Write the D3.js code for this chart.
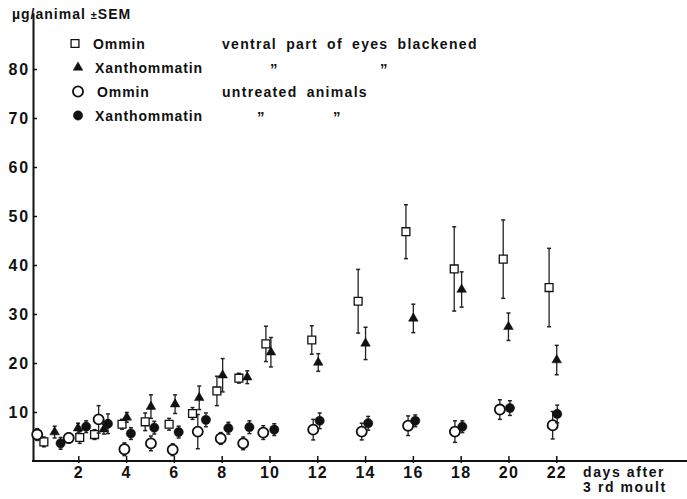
<!DOCTYPE html>
<html>
<head>
<meta charset="utf-8">
<script src="https://cdn.jsdelivr.net/npm/d3@7"></script>
<style>
  body { margin: 0; background: #fff; }
  text { font-family: "Liberation Sans", Arial, sans-serif; font-weight: bold; fill: #111; }
</style>
</head>
<body>
<div id="chart"></div>
<script>
// Plotted day positions (markers are shifted a little around the sampling day), means and SEM.
const ommBlackDays = [0.56, 2.06, 2.68, 3.83, 4.8, 5.8, 6.78, 7.8, 8.72, 9.85, 11.77, 13.71, 15.71, 17.73, 19.78, 21.7];
const ommBlackVals = [3.9, 4.8, 5.4, 7.5, 8.0, 7.5, 9.7, 14.3, 16.9, 23.9, 24.7, 32.6, 46.8, 39.2, 41.2, 35.4];
const ommBlackSem  = [1.0, 1.2, 1.0, 1.0, 1.8, 1.2, 1.2, 3.0, 1.0, 3.6, 2.9, 6.5, 5.5, 8.6, 8.0, 8.0];

const xanBlackDays = [1.01, 1.99, 3.07, 4.03, 5.04, 6.05, 7.06, 8.04, 9.07, 10.06, 12.04, 14.02, 16.02, 18.04, 20.0, 22.02];
const xanBlackVals = [5.9, 6.7, 6.5, 8.9, 11.1, 11.6, 12.9, 17.5, 17.1, 22.2, 20.1, 24.0, 29.1, 35.0, 27.4, 20.6];
const xanBlackSem  = [1.2, 1.0, 1.0, 1.0, 2.4, 1.9, 2.4, 3.4, 1.3, 3.0, 1.8, 3.3, 2.9, 3.6, 2.8, 3.0];

const ommCtrlDays = [0.28, 1.6, 2.85, 3.93, 5.04, 5.95, 7.0, 7.96, 8.9, 9.74, 11.83, 13.86, 15.8, 17.76, 19.64, 21.85];
const ommCtrlVals = [5.4, 4.7, 8.5, 2.4, 3.6, 2.3, 6.0, 4.6, 3.6, 5.8, 6.4, 6.0, 7.2, 6.0, 10.5, 7.3];
const ommCtrlSem  = [1.2, 1.0, 2.8, 1.3, 1.5, 1.2, 3.5, 1.2, 1.3, 1.4, 2.1, 1.7, 2.0, 2.2, 2.0, 2.8];

const xanCtrlDays = [1.26, 2.33, 3.24, 4.2, 5.18, 6.2, 7.34, 8.28, 9.16, 10.2, 12.1, 14.13, 16.1, 18.07, 20.06, 22.04];
const xanCtrlVals = [3.6, 7.0, 7.6, 5.6, 6.8, 5.9, 8.4, 6.7, 6.9, 6.4, 8.2, 7.7, 8.2, 7.0, 10.8, 9.6];
const xanCtrlSem  = [1.2, 1.2, 2.0, 1.2, 1.3, 1.2, 1.4, 1.2, 1.3, 1.2, 1.6, 1.4, 1.2, 1.2, 1.5, 1.8];

const xTicks = [2, 4, 6, 8, 10, 12, 14, 16, 18, 20, 22];
const yTicks = [10, 20, 30, 40, 50, 60, 70, 80];

const legendNames = ["Ommin", "Xanthommatin", "Ommin", "Xanthommatin"];
const legendNotes = ["ventral part of eyes blackened", null, "untreated animals", null];

document.addEventListener("DOMContentLoaded", function() {
  const width = 687,
        height = 499;

  const x = d3.scaleLinear().domain([0, 27.5]).range([30.5, 687.7]);
  const y = d3.scaleLinear().domain([0, 91.5]).range([461, 12.65]);

  const svg = d3.select("#chart")
    .append("svg")
    .attr("width", width)
    .attr("height", height);

  // Series: symbol type and fill.
  const series = [
    { days: ommBlackDays, vals: ommBlackVals, sem: ommBlackSem, type: d3.symbolSquare, size: 62, fill: "#fff", sw: 1.3 },
    { days: xanBlackDays, vals: xanBlackVals, sem: xanBlackSem, type: d3.symbolTriangle, size: 40, fill: "#111", sw: 0.5 },
    { days: ommCtrlDays, vals: ommCtrlVals, sem: ommCtrlSem, type: d3.symbolCircle, size: 80, fill: "#fff", sw: 1.8 },
    { days: xanCtrlDays, vals: xanCtrlVals, sem: xanCtrlSem, type: d3.symbolCircle, size: 68, fill: "#111", sw: 0.5 }
  ];

  // Axes.
  const yAxis = d3.axisLeft(y)
    .tickValues(yTicks)
    .tickSizeInner(-4)
    .tickSizeOuter(0)
    .tickPadding(3);
  const gy = svg.append("g")
    .attr("transform", `translate(33,0)`)
    .call(yAxis);
  gy.select(".domain").attr("stroke", "#111").attr("stroke-width", 2);
  gy.selectAll(".tick line").attr("stroke", "#111").attr("stroke-width", 1.5);
  gy.selectAll(".tick text")
    .style("font-size", "16px")
    .style("letter-spacing", "1.8px")
    .attr("fill", "#111");

  const xAxis = d3.axisBottom(x)
    .tickValues(xTicks)
    .tickSizeInner(-5)
    .tickSizeOuter(0)
    .tickPadding(6);
  const gx = svg.append("g")
    .attr("transform", `translate(0,${y(0)})`)
    .call(xAxis);
  gx.select(".domain").remove();
  gx.append("line")
    .attr("x1", 32).attr("x2", width)
    .attr("stroke", "#111").attr("stroke-width", 2);
  gx.selectAll(".tick line").attr("stroke", "#111").attr("stroke-width", 1.5).attr("y2", 2).attr("y1", -5);
  gx.selectAll(".tick text")
    .style("font-size", "16px")
    .style("letter-spacing", "1.2px")
    .attr("fill", "#111");

  svg.append("text")
    .attr("x", 583).attr("y", 477)
    .style("font-size", "14px").style("letter-spacing", "1.6px")
    .text("days after");
  svg.append("text")
    .attr("x", 583).attr("y", 492)
    .style("font-size", "14px").style("letter-spacing", "1.6px")
    .text("3 rd moult");

  svg.append("text")
    .attr("x", 12).attr("y", 19)
    .style("font-size", "14px").style("letter-spacing", "1px")
    .text("µg/animal ")
    .append("tspan").style("font-size", "11px").text("±")
    .append("tspan").style("font-size", "14px").text("SEM");

  // Error bars then markers.
  series.forEach(function(s) {
    const pts = s.days.map((d, i) => ({ d: d, v: s.vals[i], e: s.sem[i] }));
    const g = svg.append("g");
    const eb = g.selectAll("g.err").data(pts).enter().append("g").attr("class", "err");
    eb.append("line")
      .attr("x1", p => x(p.d)).attr("x2", p => x(p.d))
      .attr("y1", p => y(p.v + p.e)).attr("y2", p => y(p.v - p.e))
      .attr("stroke", "#222").attr("stroke-width", 1.3);
    eb.selectAll("line.cap")
      .data(p => [p.v + p.e, p.v - p.e].map(v => ({ d: p.d, v: v })))
      .enter().append("line")
      .attr("class", "cap")
      .attr("x1", c => x(c.d) - 2).attr("x2", c => x(c.d) + 2)
      .attr("y1", c => y(c.v)).attr("y2", c => y(c.v))
      .attr("stroke", "#222").attr("stroke-width", 1.5);
    g.selectAll("path.mark").data(pts).enter().append("path")
      .attr("class", "mark")
      .attr("d", d3.symbol().type(s.type).size(s.size))
      .attr("transform", p => `translate(${x(p.d)},${y(p.v)})`)
      .attr("fill", s.fill)
      .attr("stroke", "#111")
      .attr("stroke-width", s.sw);
  });

  // Legend.
  const legend = svg.append("g");
  const rowY = [49, 73, 97, 121];
  const markX = [75, 78, 78, 78];
  const nameX = [93, 95, 97, 95];
  legendNames.forEach(function(name, i) {
    const s = series[i];
    legend.append("path")
      .attr("d", d3.symbol().type(s.type).size(s.size))
      .attr("transform", `translate(${markX[i]},${rowY[i] - 5.5})`)
      .attr("fill", s.fill)
      .attr("stroke", "#111")
      .attr("stroke-width", s.sw);
    legend.append("text")
      .attr("x", nameX[i]).attr("y", rowY[i])
      .style("font-size", "14px").style("letter-spacing", "0.9px")
      .text(name);
    if (legendNotes[i]) {
      legend.append("text")
        .attr("x", 222).attr("y", rowY[i])
        .style("font-size", "14px").style("letter-spacing", "1.3px")
        .style("word-spacing", "4px")
        .text(legendNotes[i]);
    }
  });
  // Ditto marks.
  const dittoX = [[270, 380], [257, 333]];
  [1, 3].forEach(function(row, k) {
    dittoX[k].forEach(function(dx) {
      legend.append("text")
        .attr("x", dx).attr("y", rowY[row] + 1)
        .style("font-size", "15px")
        .text("”");
    });
  });
});
</script>
</body>
</html>
